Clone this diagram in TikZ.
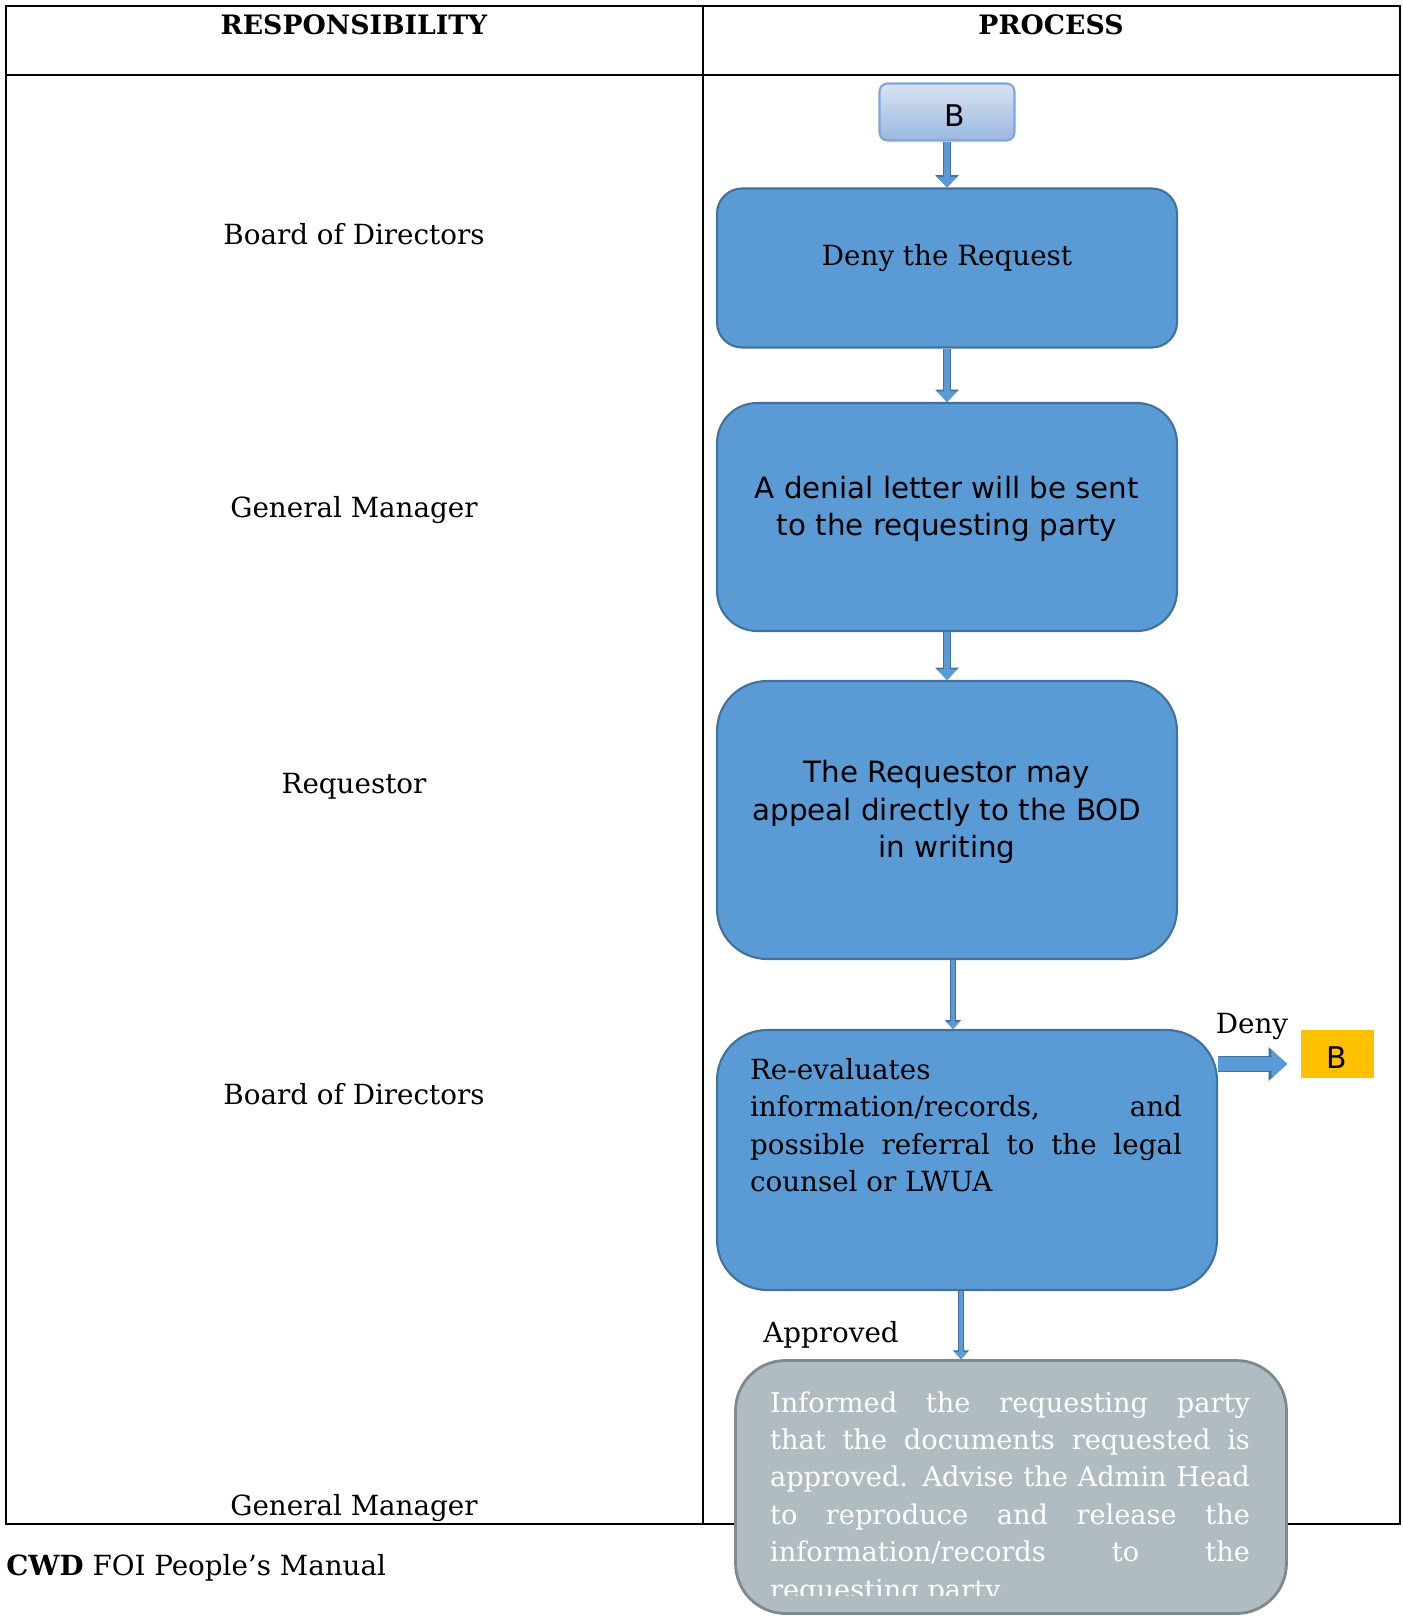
\documentclass[tikz,border=0pt]{standalone}
\usepackage{fontspec}
\setmainfont{DejaVu Serif}
\setsansfont{DejaVu Sans}
\usetikzlibrary{arrows.meta}
\definecolor{ink}{HTML}{000000}
\definecolor{boxblue}{HTML}{5B9BD5}
\definecolor{edgeblue}{HTML}{41719C}
\definecolor{tagtop}{HTML}{D7E3F3}
\definecolor{tagbot}{HTML}{9BB7DE}
\definecolor{tagedge}{HTML}{7FA6D8}
\definecolor{gold}{HTML}{FFC000}
\definecolor{slate}{HTML}{B0BCC1}
\definecolor{slateedge}{HTML}{7E8A8F}

\begin{document}
\begin{tikzpicture}[x=0.02cm,y=-0.02cm,text=ink,
  body/.style={font=\fontsize{15.8}{21.3}\selectfont},
  sans/.style={font=\sffamily\fontsize{16.7}{21.5}\selectfont},
  flowbox/.style={draw=edgeblue,fill=boxblue,line width=1.2pt,
    minimum width=9.2cm,inner sep=0pt},
  flowarr/.style={draw=boxblue,line width=3.6pt,
    -{Triangle[length=6pt,width=11pt]},
    preaction={draw=edgeblue,line width=5pt,-{Triangle[length=7pt,width=13pt]}}},
  flowthin/.style={draw=boxblue,line width=2.2pt,
    -{Triangle[length=4pt,width=7pt]},
    preaction={draw=edgeblue,line width=3.4pt,-{Triangle[length=5pt,width=9pt]}}},
  blockarr/.style={draw=boxblue,line width=7.5pt,
    -{Triangle[length=9pt,width=16pt]},
    preaction={draw=edgeblue,line width=9pt,-{Triangle[length=10.5pt,width=18.5pt]}}},
  tabline/.style={draw=ink,line width=1.1pt}]
  \useasboundingbox (0,0) rectangle (1403,1616);

  % table
  \draw[tabline] (6,6) rectangle (1400,1524);
  \draw[tabline] (703,6) -- (703,1524);
  \draw[tabline] (6,75) -- (1400,75);
  \node[font=\bfseries\fontsize{15.2}{18}\selectfont] (hresp) at (354,25) {RESPONSIBILITY};
  \node[font=\bfseries\fontsize{15.2}{18}\selectfont] (hproc) at (1051,25) {PROCESS};

  \node[body] (r1) at (354,234) {Board of Directors};
  \node[body] (r2) at (354,510) {General Manager};
  \node[body] (r3) at (354,786) {Requestor};
  \node[body] (r4) at (354,1094) {Board of Directors};
  \node[body] (r5) at (354,1508) {General Manager};

  % process
  \node[draw=tagedge,line width=1.2pt,top color=tagtop,bottom color=tagbot,
    rounded corners=0.16cm,minimum width=2.7cm,minimum height=1.14cm] (btop) at (947,112) {};
  \node[font=\sffamily\fontsize{17}{19}\selectfont] (btoptxt) at ([xshift=0.16cm,yshift=-0.08cm]btop.center) {B};
  \node[flowbox,rounded corners=0.5cm,minimum height=3.18cm] (deny) at (947,268) {};
  \node[body] (denytxt) at ([yshift=0.2cm]deny.center) {Deny the Request};
  \node[flowbox,rounded corners=0.8cm,minimum height=4.56cm] (denial) at (947,517) {};
  \node[sans,align=center] (denialtxt) at ([yshift=0.16cm]denial.center)
    {A denial letter will be sent\\to the requesting party};
  \node[flowbox,rounded corners=1cm,minimum height=5.56cm] (appeal) at (947,820) {};
  \node[sans,align=center] (appealtxt) at ([yshift=0.16cm]appeal.center)
    {The Requestor may\\appeal directly to the BOD\\in writing};
  \node[flowbox,rounded corners=1cm,minimum width=10cm,minimum height=5.2cm] (reeval) at (967,1160) {};
  \node[body,text width=8.64cm,align=justify,inner sep=0pt,anchor=north] (reevaltxt) at (966,1058)
    {Re-evaluates\\information/records, and\linebreak
     possible referral to the legal\linebreak counsel or LWUA};
  \node[fill=gold,minimum width=1.46cm,minimum height=0.96cm] (bgold) at (1337,1054) {};
  \node[font=\sffamily\fontsize{17}{19}\selectfont] (bgoldtxt) at ([yshift=-0.08cm]bgold.center) {B};
  \node[draw=slateedge,fill=slate,line width=1.6pt,rounded corners=1cm,
    minimum width=11.02cm,minimum height=5.06cm] (release) at (1011,1487) {};
  \begin{scope}
    \clip (release.north west) rectangle ([yshift=0.38cm]release.south east);
    \node[font=\fontsize{15.5}{21.3}\selectfont,text=white,text width=9.6cm,align=justify,
      inner sep=0pt,anchor=north] (releasetxt) at (1010,1391)
      {Informed the requesting party\linebreak that the documents requested is\linebreak
       approved. Advise the Admin Head\linebreak to reproduce and release the\linebreak
       information/records to the\linebreak requesting party};
  \end{scope}

  \node[body] (denylbl) at (1252,1026) {Deny};
  \node[body] (applbl) at (831,1335) {Approved};

  \draw[flowarr] (btop) -- (deny);
  \draw[flowarr] (deny) -- (denial);
  \draw[flowarr] (denial) -- (appeal);
  \draw[flowthin] ([xshift=0.12cm]appeal.south) -- ([xshift=0.12cm]appeal.south |- reeval.north);
  \draw[flowthin] ([xshift=-0.12cm]reeval.south) -- ([xshift=-0.12cm]reeval.south |- release.north);
  \draw[blockarr] ([yshift=-0.2cm]reeval.east |- bgold.west) -- ([xshift=-0.26cm,yshift=-0.2cm]bgold.west);

  \node[body,anchor=west,inner sep=0pt] (foot) at (6,1568) {\textbf{CWD} FOI People’s Manual};
\end{tikzpicture}
\end{document}
